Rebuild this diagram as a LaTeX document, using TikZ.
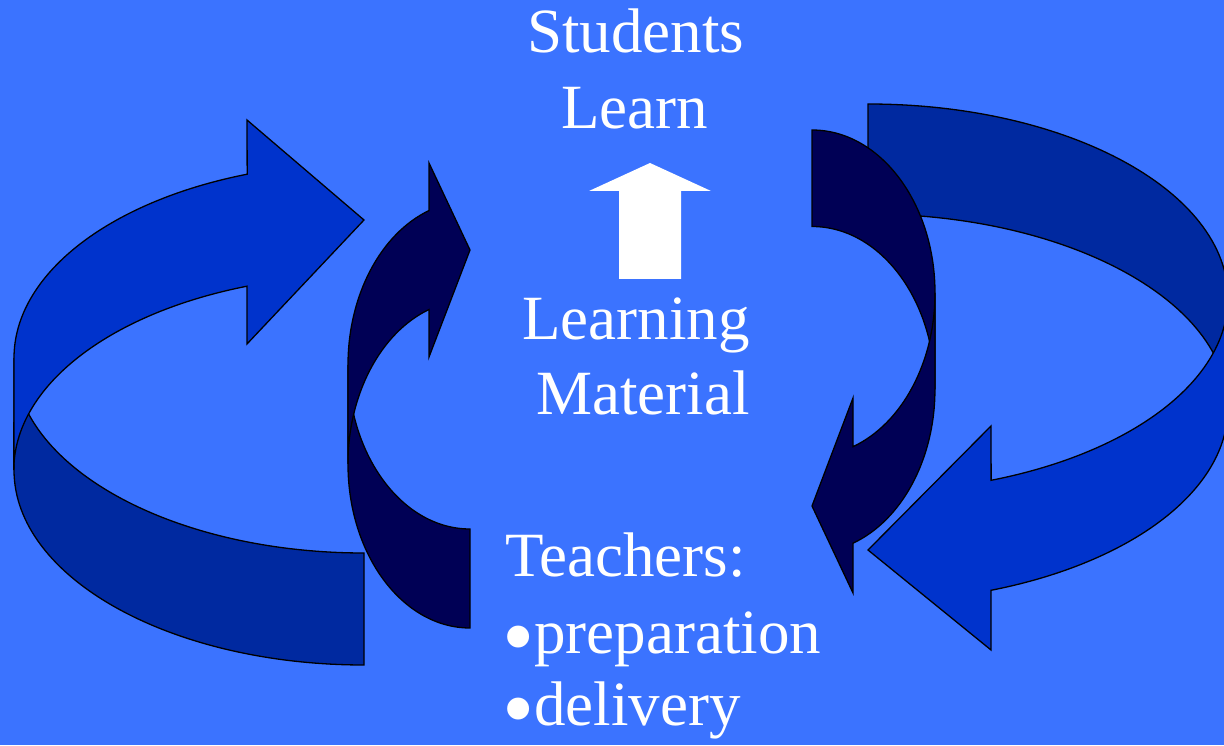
\documentclass[tikz,border=0pt]{standalone}
\usepackage{fontspec}
\setmainfont{Liberation Serif}
\definecolor{bgblue}{RGB}{59,115,255}
\definecolor{bandlight}{RGB}{0,51,204}
\definecolor{banddark}{RGB}{0,41,160}
\definecolor{navyband}{RGB}{0,0,85}
\newcommand{\bigbul}{{\fontsize{92}{75}\selectfont\raisebox{-14.5pt}[0pt][0pt]{•}}}
\tikzset{
  lightpart/.style={fill=bandlight,draw=black,line width=1.3pt,line join=miter},
  darkpart/.style={fill=banddark,draw=black,line width=1.3pt,line join=miter},
  navypart/.style={fill=navyband,draw=black,line width=1.3pt,line join=miter},
  txt/.style={text=white,anchor=base west,inner sep=0pt,font=\fontsize{63}{75}\selectfont}
}
\begin{document}
\begin{tikzpicture}[x=1pt,y=1pt]
\useasboundingbox (0,0) rectangle (1224,745);
\fill[bgblue] (0,0) rectangle (1224,745);
\clip (0,0) rectangle (1224,745);

% ---- left big ribbon ----
\draw[darkpart] (14,275) arc[start angle=180,end angle=270,x radius=350pt,y radius=195pt]
  -- (364,192) arc[start angle=270,end angle=180,x radius=350pt,y radius=195pt] -- cycle;
\draw[lightpart] (14,387) arc[start angle=180,end angle=109.5,x radius=350pt,y radius=195pt]
  -- (247,625) -- (364,525) -- (247,401) -- (247,458.8)
  arc[start angle=109.5,end angle=180,x radius=350pt,y radius=195pt] -- cycle;

% ---- left small navy ribbon ----
\draw[navypart] (348,281) arc[start angle=180,end angle=270,x radius=122pt,y radius=164pt]
  -- (470,216) arc[start angle=270,end angle=180,x radius=122pt,y radius=164pt] -- cycle;
\draw[navypart] (348,380) arc[start angle=180,end angle=109.6,x radius=122pt,y radius=164pt]
  -- (429,582) -- (470,495) -- (429,388) -- (429,435.5)
  arc[start angle=109.6,end angle=180,x radius=122pt,y radius=164pt] -- cycle;

% ---- right big ribbon ----
\draw[darkpart] (868,641) arc[start angle=90,end angle=0,x radius=360pt,y radius=194pt]
  -- (1228,337) arc[start angle=0,end angle=90,x radius=360pt,y radius=194pt] -- cycle;
\draw[lightpart] (1228,447) arc[start angle=0,end angle=-70,x radius=360pt,y radius=194pt]
  -- (991,319) -- (868,195) -- (991,95) -- (991,154.7)
  arc[start angle=-70,end angle=0,x radius=360pt,y radius=194pt] -- cycle;

% ---- right small navy ribbon ----
\draw[navypart] (812,615) arc[start angle=90,end angle=0,x radius=123pt,y radius=163pt]
  -- (935,355.5) arc[start angle=0,end angle=90,x radius=123pt,y radius=163pt] -- cycle;
\draw[navypart] (935,452) arc[start angle=0,end angle=-70.5,x radius=123pt,y radius=163pt]
  -- (853,347) -- (812,239) -- (853,152) -- (853,201.8)
  arc[start angle=-70.5,end angle=0,x radius=123pt,y radius=163pt] -- cycle;

% ---- white up arrow ----
\fill[white] (650,582) -- (711,554) -- (681,554) -- (681,466) -- (619,466) -- (619,554) -- (589,554) -- cycle;

% ---- texts ----
\node[txt] (students) at (527,692) {Students};
\node[txt] (learn) at (561,616) {Learn};
\node[txt] (learning) at (522,405) {Learning};
\node[txt] (material) at (536,330) {Material};
\node[txt] (teachers) at (505,168) {Teachers:};
\node[txt] (prep) at (502,92) {\bigbul preparation};
\node[txt] (deliv) at (502,20) {\bigbul delivery};
\end{tikzpicture}
\end{document}
